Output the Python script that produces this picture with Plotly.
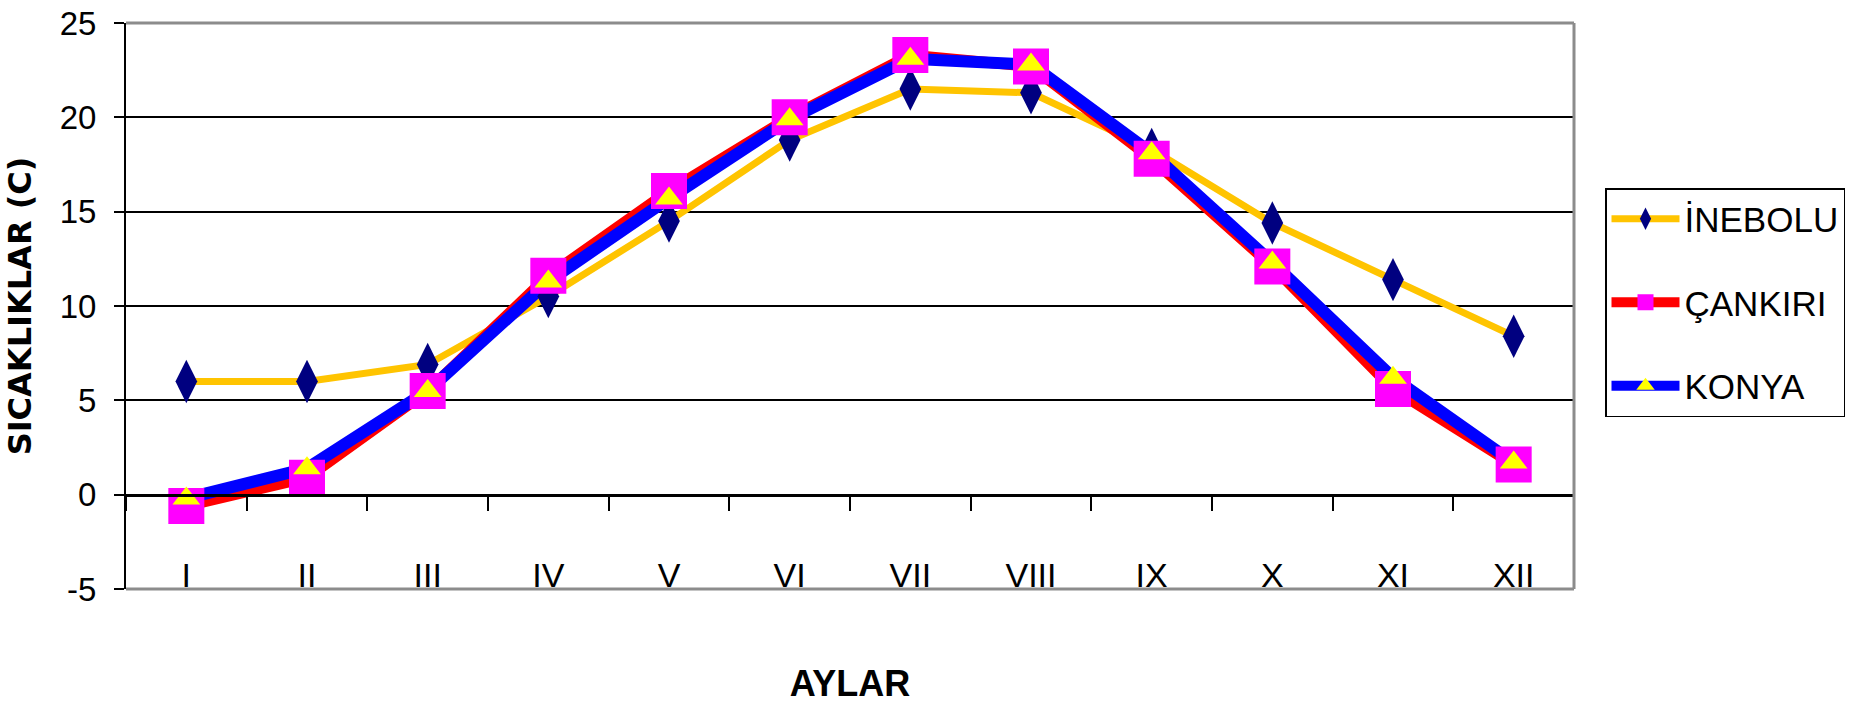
import plotly.graph_objects as go

# ---- data ----
months = ["I", "II", "III", "IV", "V", "VI", "VII", "VIII", "IX", "X", "XI", "XII"]
inebolu = [6.0, 6.0, 6.9, 10.5, 14.5, 18.8, 21.5, 21.3, 18.3, 14.4, 11.4, 8.4]
cankiri = [-0.6, 0.9, 5.5, 11.6, 16.1, 20.0, 23.3, 22.7, 17.8, 12.1, 5.6, 1.6]
konya = [-0.2, 1.4, 5.5, 11.3, 15.7, 19.9, 23.1, 22.8, 18.1, 12.3, 6.2, 1.7]
series_names = ["İNEBOLU", "ÇANKIRI", "KONYA"]
y_ticks = [-5, 0, 5, 10, 15, 20, 25]

# ---- styles ----
line_colors = ["#FFC400", "#FF0000", "#0000FF"]
line_widths = [7, 11, 12]
marker_colors = ["#000080", "#FF00FF", "#FFFF00"]
marker_symbols = ["diamond-tall", "square", "triangle-up"]
marker_sizes = [31, 36, 24]

FONT = "Liberation Sans, Arial, sans-serif"

# plot area at x 126..1574, y 23..589 in the 1852x706 window (body margin removed)
W, H = 1852, 706
L, T = 126, 23
R = W - 1574
B = H - 589

fig = go.Figure()
all_series = [inebolu, cankiri, konya]

# lines first (all series), so markers sit above every line
for name, ys, lc, lw in zip(series_names, all_series, line_colors, line_widths):
    fig.add_trace(go.Scatter(
        x=months, y=ys, mode="lines", showlegend=False,
        line=dict(color=lc, width=lw), hoverinfo="skip",
    ))

# markers (with legend); gaps between points prevent drawing a second line
for i, (name, ys) in enumerate(zip(series_names, all_series)):
    xs, yv = [], []
    for m, v in zip(months, ys):
        xs += [m, m]
        yv += [v, None]
    fig.add_trace(go.Scatter(
        x=xs, y=yv, mode="lines+markers", name=name, legendgroup=name,
        connectgaps=False,
        line=dict(color=line_colors[i], width=line_widths[i]),
        marker=dict(symbol=marker_symbols[i], size=marker_sizes[i],
                    color=marker_colors[i], line=dict(width=0)),
    ))

ymin, ymax = y_ticks[0], y_ticks[-1]
zero_pos = (0 - ymin) / (ymax - ymin)
plot_h = 589 - 23
plot_w = 1574 - 126

fig.update_layout(
    width=W, height=H,
    margin=dict(l=L, r=R, t=T, b=B, autoexpand=False),
    paper_bgcolor="white", plot_bgcolor="white",
    showlegend=True,
    legend=dict(
        x=(1605 - 126) / plot_w, y=(589 - 188) / plot_h,
        xanchor="left", yanchor="top",
        bordercolor="black", borderwidth=1.5, bgcolor="white",
        font=dict(family=FONT, size=35, color="black"),
        itemwidth=68, tracegroupgap=35, traceorder="grouped",
        itemsizing="trace",
    ),
    xaxis=dict(
        type="category", categoryorder="array", categoryarray=months,
        range=[-0.5, 11.5],
        anchor="free", position=zero_pos,
        showline=True, linecolor="black", linewidth=2.5,
        ticks="outside", tickson="boundaries", ticklen=15, tickwidth=1.5,
        tickcolor="black", showgrid=False, zeroline=False,
        tickfont=dict(family=FONT, size=34, color="black"),
        ticklabelstandoff=50, ticklabeloverflow="allow",
        title=dict(text="<b>AYLAR</b>", font=dict(family=FONT, size=36, color="black"),
                   standoff=77),
    ),
    yaxis=dict(
        range=[ymin, ymax], tickvals=y_ticks, ticktext=[str(v) for v in y_ticks],
        showline=True, linecolor="black", linewidth=2,
        ticks="outside", ticklen=10, tickwidth=2, tickcolor="black",
        showgrid=True, gridcolor="black", gridwidth=2, zeroline=False,
        tickfont=dict(family=FONT, size=33, color="black"),
        ticklabelstandoff=11, ticklabeloverflow="allow",
        title=dict(text="<b>SICAKLIKLAR (C)</b>",
                   font=dict(family="DejaVu Sans", size=32, color="black"),
                   standoff=18),
    ),
    shapes=[
        dict(type="line", xref="paper", yref="paper", x0=0, x1=1, y0=1, y1=1,
             line=dict(color="#8C8C8C", width=3), layer="above"),
        dict(type="line", xref="paper", yref="paper", x0=1, x1=1, y0=0, y1=1,
             line=dict(color="#8C8C8C", width=3), layer="above"),
        dict(type="line", xref="paper", yref="paper", x0=0, x1=1, y0=0, y1=0,
             line=dict(color="#8C8C8C", width=3), layer="above"),
    ],
)

fig.write_html(
    "out.html",
    config={"displayModeBar": False},
    post_script="document.body.style.margin='0';document.body.style.overflow='hidden';",
)
